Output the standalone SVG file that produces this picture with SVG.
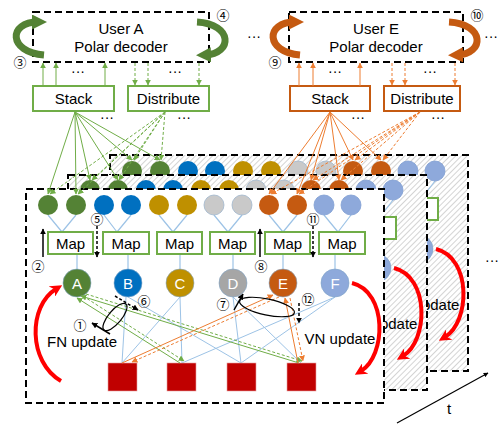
<svg xmlns="http://www.w3.org/2000/svg" xmlns:xlink="http://www.w3.org/1999/xlink" width="500" height="426" viewBox="0 0 500 426">
  <style>
    .lbl { font-family: "Liberation Sans", Arial, sans-serif; font-size: 15px; fill: #000; text-anchor: middle; }
    .num { font-family: "Noto Sans CJK KR", "DejaVu Sans", sans-serif; font-size: 13px; fill: #000; text-anchor: middle; }
    .dots { font-family: "Liberation Sans", Arial, sans-serif; font-size: 14px; fill: #000; text-anchor: middle; }
    .letter { font-family: "Liberation Sans", Arial, sans-serif; font-size: 15px; fill: #fff; text-anchor: middle; }
    .panel { stroke: #000; stroke-width: 2; stroke-dasharray: 7 4; }
    .user { fill: #fff; stroke: #000; stroke-width: 2; stroke-dasharray: 7 4; }
    .gbox { fill: #fff; stroke: #70AD47; stroke-width: 2; }
    .obox { fill: #fff; stroke: #C55A11; stroke-width: 2; }
    .tie { stroke: #9DC3E6; stroke-width: 1.2; fill: none; }
    .edge { stroke: #9DC3E6; stroke-width: 1; fill: none; }
    .g { stroke: #70AD47; stroke-width: 1; fill: none; }
    .o { stroke: #ED7D31; stroke-width: 1; fill: none; }
    .dash { stroke-dasharray: 3 2; }
    .blk { stroke: #000; stroke-width: 1.5; fill: none; }
    .fn { fill: #C00000; stroke: #E8A0A0; stroke-width: 0.6; }
    .red { stroke: #FF0000; stroke-width: 4; fill: none; }
  </style>
  <defs>
    <pattern id="hatch" width="4" height="4" patternUnits="userSpaceOnUse" patternTransform="rotate(45)">
      <rect width="4" height="4" fill="#fff"/>
      <line x1="0" y1="0" x2="0" y2="4" stroke="#B8B8B8" stroke-width="1.2"/>
    </pattern>
    <marker id="ag" viewBox="0 0 10 10" refX="9" refY="5" markerWidth="6" markerHeight="6" orient="auto"><path d="M0,0 L10,5 L0,10 z" fill="#70AD47"/></marker>
    <marker id="ao" viewBox="0 0 10 10" refX="9" refY="5" markerWidth="6" markerHeight="6" orient="auto"><path d="M0,0 L10,5 L0,10 z" fill="#ED7D31"/></marker>
    <marker id="ak" viewBox="0 0 10 10" refX="9" refY="5" markerWidth="4" markerHeight="4" orient="auto"><path d="M0,0 L10,5 L0,10 z" fill="#000"/></marker>
    <marker id="ar" viewBox="0 0 10 10" refX="4" refY="5" markerWidth="12" markerHeight="12" markerUnits="userSpaceOnUse" orient="auto"><path d="M0,0 L10,5 L0,10 L3,5 z" fill="#FF0000"/></marker>
    <marker id="lg" viewBox="0 0 10 10" refX="4" refY="5" markerWidth="15" markerHeight="15" markerUnits="userSpaceOnUse" orient="auto"><path d="M0,0 L10,5 L0,10 z" fill="#548235"/></marker>
    <marker id="lo" viewBox="0 0 10 10" refX="4" refY="5" markerWidth="15" markerHeight="15" markerUnits="userSpaceOnUse" orient="auto"><path d="M0,0 L10,5 L0,10 z" fill="#C55A11"/></marker>
  </defs>

  <!-- time-step panel 3 (rearmost) -->
  <g id="panel-3">
    <rect class="panel" x="110" y="155" width="358" height="216" fill="url(#hatch)"/>
    <g transform="translate(84,-34)">
      <use href="#graph"/>
      <rect class="gbox" x="309" y="232" width="45" height="22"/>
    </g>
  </g>
  <!-- time-step panel 2 -->
  <g id="panel-2">
    <rect class="panel" x="68" y="175" width="359" height="215" fill="url(#hatch)"/>
    <g transform="translate(42,-15)">
      <use href="#graph"/>
      <rect class="gbox" x="309" y="232" width="45" height="22"/>
    </g>
  </g>
  <!-- time-step panel 1 (front) -->
  <g id="panel-1">
    <rect class="panel" x="26" y="189" width="358" height="214" fill="#fff"/>
    <g id="graph">
      <g id="ties">
        <path class="tie" d="M48 215 L62 232 M76 215 L62 232 M104 215 L117 232 M131 215 L117 232 M159 215 L173 232 M187 215 L173 232 M214 215 L228 232 M242 215 L228 232 M269 215 L283 232 M297 215 L283 232 M324 215 L338 232 M351 215 L338 232"/>
        <path class="tie" d="M77 254 V269 M128 254 V269 M180 254 V269 M233 254 V269 M283 254 V269 M335 254 V269"/>
      </g>
      <g id="tanner-edges">
        <path class="edge" d="M126 297 L122 363 M180 297 L122 363 M180 297 L182 363 M335 297 L182 363 M128 297 L241 363 M233 297 L241 363 M335 297 L241 363 M233 297 L301 363"/>
      </g>
      <g id="bits">
        <circle cx="48" cy="205" r="10" fill="#548235"/>
        <circle cx="76" cy="205" r="10" fill="#548235"/>
        <circle cx="104" cy="205" r="10" fill="#0070C0"/>
        <circle cx="131" cy="205" r="10" fill="#0070C0"/>
        <circle cx="159" cy="205" r="10" fill="#BF9000"/>
        <circle cx="187" cy="205" r="10" fill="#BF9000"/>
        <circle cx="214" cy="205" r="10" fill="#C9C9C9" stroke="#9FB6CD" stroke-width="0.8"/>
        <circle cx="242" cy="205" r="10" fill="#C9C9C9" stroke="#9FB6CD" stroke-width="0.8"/>
        <circle cx="269" cy="205" r="10" fill="#C55A11"/>
        <circle cx="297" cy="205" r="10" fill="#C55A11"/>
        <circle cx="324" cy="205" r="10" fill="#8EA9DB" stroke="#7F9ED3" stroke-width="0.8"/>
        <circle cx="351" cy="205" r="10" fill="#8EA9DB" stroke="#7F9ED3" stroke-width="0.8"/>
      </g>
      <g id="vn-A"><circle cx="77" cy="283" r="14" fill="#548235" stroke="#7FA4C8" stroke-width="0.6"/><text class="letter" x="77" y="288.5">A</text></g>
      <g id="vn-B"><circle cx="128" cy="283" r="14" fill="#0070C0" stroke="#7FA4C8" stroke-width="0.6"/><text class="letter" x="128" y="288.5">B</text></g>
      <g id="vn-C"><circle cx="180" cy="283" r="14" fill="#BF9000" stroke="#7FA4C8" stroke-width="0.6"/><text class="letter" x="180" y="288.5">C</text></g>
      <g id="vn-D"><circle cx="233" cy="283" r="14" fill="#A6A6A6" stroke="#7FA4C8" stroke-width="0.6"/><text class="letter" x="233" y="288.5">D</text></g>
      <g id="vn-E"><circle cx="283" cy="283" r="14" fill="#C55A11" stroke="#7FA4C8" stroke-width="0.6"/><text class="letter" x="283" y="288.5">E</text></g>
      <g id="vn-F"><circle cx="335" cy="283" r="14" fill="#8EA9DB" stroke="#7FA4C8" stroke-width="0.6"/><text class="letter" x="335" y="288.5">F</text></g>
      <g id="fn-1"><rect class="fn" x="108" y="363" width="29" height="28"/></g>
      <g id="fn-2"><rect class="fn" x="167" y="363" width="29" height="28"/></g>
      <g id="fn-3"><rect class="fn" x="227" y="363" width="29" height="28"/></g>
      <g id="fn-4"><rect class="fn" x="287" y="363" width="29" height="28"/></g>
      <path class="red" d="M61 381 C28 362 28 306 56 289" marker-end="url(#ar)"/>
      <path class="red" d="M352 283 C388 292 386 356 361 371" marker-end="url(#ar)"/>
      <text class="lbl" x="340" y="344">VN update</text>
    </g>

    <g id="map-1"><rect class="gbox" x="48" y="232" width="45" height="22"/><text class="lbl" x="70.5" y="248.5">Map</text></g>
    <g id="map-2"><rect class="gbox" x="103" y="232" width="46" height="22"/><text class="lbl" x="126" y="248.5">Map</text></g>
    <g id="map-3"><rect class="gbox" x="157" y="232" width="45" height="22"/><text class="lbl" x="179.5" y="248.5">Map</text></g>
    <g id="map-4"><rect class="gbox" x="210" y="232" width="45" height="22"/><text class="lbl" x="232.5" y="248.5">Map</text></g>
    <g id="map-5"><rect class="gbox" x="265" y="232" width="45" height="22"/><text class="lbl" x="287.5" y="248.5">Map</text></g>
    <g id="map-6"><rect class="gbox" x="319" y="232" width="46" height="22"/><text class="lbl" x="342" y="248.5">Map</text></g>

    <!-- message exchange of users A and E on the factor graph -->
    <g id="user-messages">
      <path class="g" d="M180 363 L77 298" marker-end="url(#ag)"/>
      <path class="g dash" d="M83 296 L184 361" marker-end="url(#ag)"/>
      <path class="g" d="M299 363 L81 296" marker-end="url(#ag)"/>
      <path class="g dash" d="M86 294 L302 361" marker-end="url(#ag)"/>
      <path class="o" d="M122 363 L273 295" marker-end="url(#ao)"/>
      <path class="o dash" d="M279 297 L132 362" marker-end="url(#ao)"/>
      <path class="o" d="M298 363 L285 298" marker-end="url(#ao)"/>
      <path class="o dash" d="M290 298 L303 361" marker-end="url(#ao)"/>
    </g>

    <g id="steps">
      <path class="blk" d="M43 257 V229" marker-end="url(#ak)"/>
      <text class="num" x="38" y="271">②</text>
      <path class="blk dash" d="M97 226 V257" marker-end="url(#ak)"/>
      <text class="num" x="97" y="224">⑤</text>
      <path class="blk" d="M260 257 V229" marker-end="url(#ak)"/>
      <text class="num" x="261" y="271">⑧</text>
      <path class="blk dash" d="M313 226 V257" marker-end="url(#ak)"/>
      <text class="num" x="313" y="224">⑪</text>
      <path class="blk dash" d="M115 296 L138 310" marker-end="url(#ak)"/>
      <text class="num" x="144" y="306">⑥</text>
      <ellipse cx="115" cy="317" rx="17" ry="6.5" transform="rotate(-50 115 317)" fill="none" stroke="#000" stroke-width="1.2"/>
      <path class="blk" d="M110 334 L92 323" marker-end="url(#ak)"/>
      <text class="num" x="80" y="330">①</text>
      <text class="lbl" x="82" y="347">FN update</text>
      <path class="blk" d="M234 310 L243 294" marker-end="url(#ak)"/>
      <text class="num" x="223" y="309">⑦</text>
      <ellipse cx="267" cy="307" rx="28" ry="8" transform="rotate(12 267 307)" fill="none" stroke="#000" stroke-width="1.2"/>
      <path class="blk dash" d="M299 303 V323" marker-end="url(#ak)"/>
      <text class="num" x="308" y="304">⑫</text>
    </g>
  </g>

  <!-- user A decoder and its buffers -->
  <g id="user-A">
    <rect class="user" x="33" y="12" width="176" height="50"/>
    <text class="lbl" x="121" y="34">User A</text>
    <text class="lbl" x="121" y="52">Polar decoder</text>
  </g>
  <g id="stack-A"><rect class="gbox" x="33" y="86" width="81" height="25"/><text class="lbl" x="73.5" y="104">Stack</text></g>
  <g id="distribute-A"><rect class="gbox" x="128" y="86" width="81" height="25"/><text class="lbl" x="168.5" y="104">Distribute</text></g>

  <!-- user E decoder and its buffers -->
  <g id="user-E">
    <rect class="user" x="289" y="12" width="174" height="50"/>
    <text class="lbl" x="376" y="34">User E</text>
    <text class="lbl" x="376" y="52">Polar decoder</text>
  </g>
  <g id="stack-E"><rect class="obox" x="290" y="86" width="80" height="25"/><text class="lbl" x="330" y="104">Stack</text></g>
  <g id="distribute-E"><rect class="obox" x="384" y="86" width="76" height="25"/><text class="lbl" x="422" y="104">Distribute</text></g>

  <g id="connectors">
    <!-- decoder loops -->
    <path d="M44 55 C8 52 8 22 38 22" stroke="#548235" stroke-width="7" fill="none" marker-end="url(#lg)"/>
    <path d="M197 22 C233 24 233 54 205 55" stroke="#548235" stroke-width="7" fill="none" marker-end="url(#lg)"/>
    <path d="M300 55 C265 52 265 22 295 22" stroke="#C55A11" stroke-width="7" fill="none" marker-end="url(#lo)"/>
    <path d="M449 22 C485 24 485 54 457 55" stroke="#C55A11" stroke-width="7" fill="none" marker-end="url(#lo)"/>
    <!-- buffers to decoders -->
    <path class="g" d="M43 86 V63" marker-end="url(#ag)"/>
    <path class="g" d="M56 86 V63" marker-end="url(#ag)"/>
    <path class="g" d="M105 86 V63" marker-end="url(#ag)"/>
    <path class="g dash" d="M135 63 V85" marker-end="url(#ag)"/>
    <path class="g dash" d="M148 63 V85" marker-end="url(#ag)"/>
    <path class="g dash" d="M199 63 V85" marker-end="url(#ag)"/>
    <path class="o" d="M299 86 V63" marker-end="url(#ao)"/>
    <path class="o" d="M313 86 V63" marker-end="url(#ao)"/>
    <path class="o" d="M360 86 V63" marker-end="url(#ao)"/>
    <path class="o dash" d="M392 63 V85" marker-end="url(#ao)"/>
    <path class="o dash" d="M405 63 V85" marker-end="url(#ao)"/>
    <path class="o dash" d="M455 63 V85" marker-end="url(#ao)"/>
    <!-- buffers to bit nodes -->
    <path class="g" d="M75 112 L48 194" marker-end="url(#ag)"/>
    <path class="g" d="M75 112 L76 194" marker-end="url(#ag)"/>
    <path class="g" d="M75 112 L90 180" marker-end="url(#ag)"/>
    <path class="g" d="M75 112 L118 180" marker-end="url(#ag)"/>
    <path class="g" d="M75 112 L132 160" marker-end="url(#ag)"/>
    <path class="g" d="M75 112 L160 160" marker-end="url(#ag)"/>
    <path class="g dash" d="M165 112 L50 194" marker-end="url(#ag)"/>
    <path class="g dash" d="M165 112 L78 194" marker-end="url(#ag)"/>
    <path class="g dash" d="M165 112 L92 180" marker-end="url(#ag)"/>
    <path class="g dash" d="M165 112 L119 180" marker-end="url(#ag)"/>
    <path class="g dash" d="M165 112 L134 160" marker-end="url(#ag)"/>
    <path class="g dash" d="M165 112 L161 160" marker-end="url(#ag)"/>
    <path class="o" d="M330 112 L269 194" marker-end="url(#ao)"/>
    <path class="o" d="M330 112 L297 194" marker-end="url(#ao)"/>
    <path class="o" d="M330 112 L311 180" marker-end="url(#ao)"/>
    <path class="o" d="M330 112 L339 180" marker-end="url(#ao)"/>
    <path class="o" d="M330 112 L353 160" marker-end="url(#ao)"/>
    <path class="o" d="M330 112 L381 160" marker-end="url(#ao)"/>
    <path class="o dash" d="M420 112 L271 194" marker-end="url(#ao)"/>
    <path class="o dash" d="M420 112 L299 194" marker-end="url(#ao)"/>
    <path class="o dash" d="M420 112 L313 180" marker-end="url(#ao)"/>
    <path class="o dash" d="M420 112 L341 180" marker-end="url(#ao)"/>
    <path class="o dash" d="M420 112 L355 160" marker-end="url(#ao)"/>
    <path class="o dash" d="M420 112 L383 160" marker-end="url(#ao)"/>
  </g>

  <!-- circled step numbers and ellipsis marks -->
  <text class="num" x="20" y="67">③</text>
  <text class="num" x="223" y="20">④</text>
  <text class="num" x="275" y="67">⑨</text>
  <text class="num" x="477" y="20">⑩</text>
  <text class="dots" x="78" y="76">···</text>
  <text class="dots" x="175" y="76">···</text>
  <text class="dots" x="107" y="122">···</text>
  <text class="dots" x="184" y="122">···</text>
  <text class="dots" x="335" y="76">···</text>
  <text class="dots" x="430" y="76">···</text>
  <text class="dots" x="358" y="122">···</text>
  <text class="dots" x="438" y="122">···</text>
  <text class="dots" x="254" y="41">···</text>
  <text class="dots" x="491" y="41">···</text>
  <text class="dots" x="492" y="265">···</text>

  <!-- time axis -->
  <g id="time-axis">
    <path d="M397 423 L488 373" stroke="#000" stroke-width="1.2" fill="none" marker-end="url(#ak)"/>
    <text class="lbl" x="449" y="414">t</text>
  </g>
</svg>
